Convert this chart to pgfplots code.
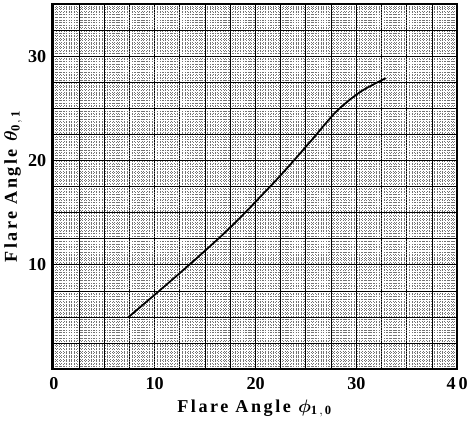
\documentclass[border=0pt]{standalone}
\usepackage{amsmath}
\usepackage{bm}
\usepackage{pgfplots}
\pgfplotsset{compat=1.18}
\usepackage{fontspec}
\setmainfont{Liberation Serif}
\newfontfamily\lblfont[LetterSpace=14]{Liberation Serif}
\begin{document}
\begin{tikzpicture}
\begin{axis}[
  scale only axis,
  width=322pt, height=290pt,
  xmin=-0.2, xmax=40.0, ymin=0, ymax=35,
  xtick={0,2.5,...,40},
  xticklabels={0,,,,10,,,,20,,,,30,,,,4\,0},
  ytick={0,2.5,...,35},
  yticklabels={,,,,10,,,,20,,,,30,,},
  minor tick num=9,
  major tick length=0pt, minor tick length=0pt,
  grid=both,
  major grid style={black, line width=0.8pt},
  minor grid style={black!55, line width=0.45pt, dash pattern=on 0.6pt off 1.6pt},
  axis line style={black, line width=1.2pt},
  tick label style={font=\bfseries\Large},
  /pgf/number format/assume math mode=true,
  xticklabel style={yshift=-3pt},
  yticklabel style={xshift=-1pt},
  xlabel={\lblfont\bfseries\Large Flare Angle $\bm{\phi}_{\mathbf{1\,,\,0}}$},
  ylabel={\lblfont\bfseries\Large Flare Angle $\bm{\theta}_{\mathbf{0\,,\,1}}$},
  xlabel style={yshift=-1pt},
  ylabel style={yshift=-2pt},
]
\addplot[black, line width=1.4pt, smooth, tension=0.5] coordinates {
  (7.4,5.0) (12.7,9.4) (17.5,13.6) (22.3,18.4) (25.5,21.9) (28.0,24.7) (30.4,26.6) (32.9,27.9)
};
\end{axis}
\end{tikzpicture}
\end{document}
